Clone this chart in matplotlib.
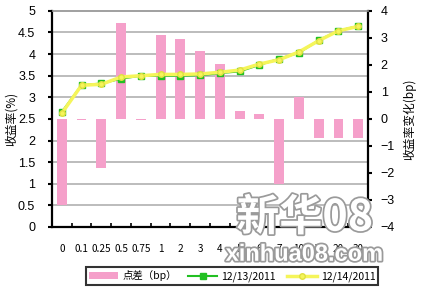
import matplotlib.pyplot as plt
import matplotlib.patheffects as pe
import numpy as np

plt.rcParams['font.family'] = ['Liberation Sans', 'Noto Sans CJK SC', 'DejaVu Sans']

# 期限 (年)
tenors = ['0', '0.1', '0.25', '0.5', '0.75', '1', '2', '3', '4', '5', '6', '7', '10', '15', '20', '30']
# 收益率 (%)
y_1213 = [2.66, 3.28, 3.32, 3.43, 3.50, 3.50, 3.50, 3.51, 3.56, 3.60, 3.75, 3.89, 4.03, 4.32, 4.54, 4.65]
y_1214 = [2.63, 3.28, 3.30, 3.47, 3.50, 3.53, 3.53, 3.54, 3.58, 3.63, 3.77, 3.87, 4.05, 4.31, 4.54, 4.64]
# 点差 (bp)
spread = [-3.2, -0.05, -1.8, 3.55, -0.05, 3.1, 2.95, 2.5, 2.05, 0.3, 0.2, -2.4, 0.8, -0.7, -0.7, -0.7]

x = np.arange(len(tenors))

fig = plt.figure(figsize=(4.29, 2.94), dpi=100)
ax = fig.add_axes([0.121, 0.228, 0.737, 0.735])
ax2 = ax.twinx()

# bars on the right axis (bp)
ax.bar(x, spread, width=0.5, color='#F5A0CA', zorder=2, label='点差（bp）')
ax.set_ylim(-4, 4)
ax.set_xlim(-0.5, len(tenors) - 0.5)
ax.yaxis.tick_right()
ax.yaxis.set_label_position('right')
ax.set_yticks(np.arange(-4, 5, 1))
ax.set_yticks(np.arange(-4, 4.01, 0.8), minor=True)
ax.grid(which='minor', axis='y', color='#B0B0B0', linewidth=1.2, zorder=0)
ax.tick_params(axis='y', which='minor', length=0)
ax.tick_params(axis='y', which='major', direction='out', length=3, width=1.5,
               labelsize=9, pad=6)
ax.set_xticks(x)
ax.set_xticklabels(tenors, family=['Noto Sans CJK SC'], fontsize=7.2)
ax.set_xticks(np.arange(0.5, len(tenors) - 1, 1), minor=True)
ax.tick_params(axis='x', which='major', length=0, pad=12)
ax.tick_params(axis='x', which='minor', direction='in', length=3, width=1.2)
for s in ['left', 'right', 'bottom']:
    ax.spines[s].set_linewidth(1.6)
ax.spines['top'].set_color('#909090')
ax.spines['top'].set_linewidth(1.2)
ax.set_ylabel('收益率变化(bp)', family=['Noto Sans CJK SC'], fontsize=8.5,
              rotation=90, labelpad=6)

# lines on the left axis (%)
ax2.yaxis.tick_left()
ax2.yaxis.set_label_position('left')
ax2.plot(x, y_1213, color='#22C022', linewidth=1.5, marker='s', markersize=5,
         markerfacecolor='#22C022', markeredgecolor='#22C022', label='12/13/2011', zorder=3)
ax2.plot(x, y_1214, color='#F5F55A', linewidth=2.5, marker='o', markersize=4,
         markerfacecolor='#F5F55A', markeredgecolor='#E0E040', label='12/14/2011', zorder=4)
ax2.set_ylim(0, 5)
ax2.set_yticks(np.arange(0, 5.01, 0.5))
ax2.set_yticklabels(['0', '0.5', '1', '1.5', '2', '2.5', '3', '3.5', '4', '4.5', '5'])
ax2.tick_params(axis='y', direction='out', length=3, width=1.5, labelsize=9, pad=9)
for s in ax2.spines.values():
    s.set_visible(False)
ax2.set_ylabel('收益率(%)', family=['Noto Sans CJK SC'], fontsize=8.5, labelpad=0)

h1, l1 = ax.get_legend_handles_labels()
h2, l2 = ax2.get_legend_handles_labels()
leg = fig.legend(h1 + h2, l1 + l2, loc='center', bbox_to_anchor=(0.541, 0.061), ncol=3,
                 fancybox=False, edgecolor='black', handlelength=2.8, columnspacing=1.1,
                 borderpad=0.3, handletextpad=0.4,
                 prop={'family': ['Noto Sans CJK SC'], 'size': 7.5})
leg.get_frame().set_linewidth(1.5)

# watermark
wm = [pe.withStroke(linewidth=2.5, foreground='#9A9A9A')]
fig.text(0.71, 0.26, '新华08', family=['Noto Sans CJK SC'], fontsize=31, fontweight='bold',
         color='white', ha='center', va='center', path_effects=wm)
fig.text(0.71, 0.135, 'xinhua08.com', fontsize=17, fontweight='bold',
         color='white', ha='center', va='center', path_effects=wm)

fig.savefig('out.png', dpi=100)
